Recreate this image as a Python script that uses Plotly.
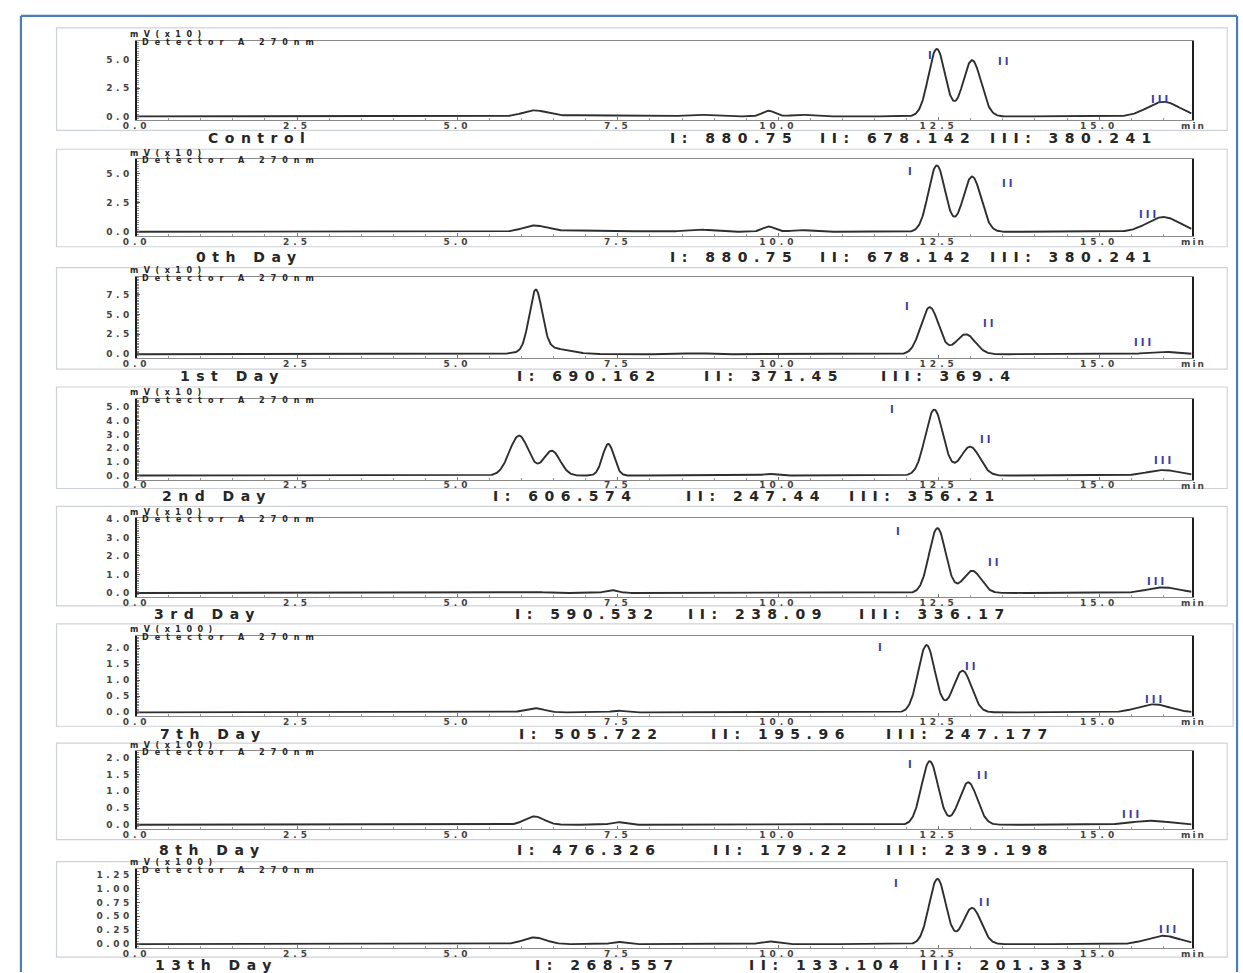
import numpy as np
import plotly.graph_objects as go

W, H = 1243, 973

# ---- sample names and integrated peak areas (peaks I, II, III) ----
samples = ["Control", "0th Day", "1st Day", "2nd Day", "3rd Day", "7th Day", "8th Day", "13th Day"]
area_I = ["880.75", "880.75", "690.162", "606.574", "590.532", "505.722", "476.326", "268.557"]
area_II = ["678.142", "678.142", "371.45", "247.44", "238.09", "195.96", "179.22", "133.104"]
area_III = ["380.241", "380.241", "369.4", "356.21", "336.17", "247.177", "239.198", "201.333"]
scale_labels = ["mV(x10)", "mV(x10)", "mV(x10)", "mV(x10)", "mV(x10)", "mV(x100)", "mV(x100)", "mV(x100)"]
detector_label = "Detector A 270nm"

# ---- peak tables: retention time (min), height (scaled), width sigma (min) ----
control_rt = [6.20, 7.00, 8.75, 9.85, 10.35, 12.47, 13.02, 16.00]
control_h = [0.50, 0.10, 0.15, 0.50, 0.15, 6.00, 5.00, 1.30]
control_w = [0.18, 0.60, 0.20, 0.10, 0.15, 0.13, 0.14, 0.25]

day0_rt = [6.20, 7.00, 8.75, 9.85, 10.35, 12.47, 13.02, 16.00]
day0_h = [0.50, 0.12, 0.20, 0.45, 0.15, 5.70, 4.75, 1.27]
day0_w = [0.18, 0.60, 0.20, 0.10, 0.15, 0.13, 0.14, 0.25]

day1_rt = [6.22, 6.40, 8.70, 10.00, 12.36, 12.92, 16.00]
day1_h = [7.45, 0.80, 0.12, 0.08, 5.90, 2.50, 0.30]
day1_w = [0.10, 0.30, 0.20, 0.15, 0.14, 0.15, 0.25]

day2_rt = [5.96, 6.47, 7.35, 9.85, 12.43, 12.99, 16.00]
day2_h = [2.90, 1.80, 2.30, 0.12, 4.80, 2.10, 0.40]
day2_w = [0.15, 0.13, 0.09, 0.10, 0.14, 0.15, 0.25]

day3_rt = [6.20, 7.40, 12.48, 13.02, 16.00]
day3_h = [0.05, 0.15, 3.50, 1.20, 0.30]
day3_w = [0.15, 0.10, 0.13, 0.14, 0.25]

day7_rt = [6.20, 7.50, 12.31, 12.87, 15.85]
day7_h = [0.13, 0.05, 2.10, 1.30, 0.25]
day7_w = [0.15, 0.10, 0.13, 0.14, 0.25]

day8_rt = [6.20, 7.50, 12.36, 12.96, 15.80]
day8_h = [0.25, 0.08, 1.90, 1.27, 0.12]
day8_w = [0.15, 0.10, 0.13, 0.14, 0.30]

day13_rt = [6.20, 7.50, 9.85, 12.48, 13.02, 16.00]
day13_h = [0.12, 0.04, 0.05, 1.17, 0.65, 0.15]
day13_w = [0.18, 0.10, 0.12, 0.13, 0.14, 0.25]

peak_tables = [
    (control_rt, control_h, control_w),
    (day0_rt, day0_h, day0_w),
    (day1_rt, day1_h, day1_w),
    (day2_rt, day2_h, day2_w),
    (day3_rt, day3_h, day3_w),
    (day7_rt, day7_h, day7_w),
    (day8_rt, day8_h, day8_w),
    (day13_rt, day13_h, day13_w),
]

# y tick values of each chromatogram
y_ticks = [
    [0.0, 2.5, 5.0],
    [0.0, 2.5, 5.0],
    [0.0, 2.5, 5.0, 7.5],
    [0.0, 1.0, 2.0, 3.0, 4.0, 5.0],
    [0.0, 1.0, 2.0, 3.0, 4.0],
    [0.0, 0.5, 1.0, 1.5, 2.0],
    [0.0, 0.5, 1.0, 1.5, 2.0],
    [0.00, 0.25, 0.50, 0.75, 1.00, 1.25],
]
x_ticks = [0.0, 2.5, 5.0, 7.5, 10.0, 12.5, 15.0]

# ---- layout (pixels) ----
X_LEFT, X_RIGHT = 124, 1191
PX_PER_MIN = 64.9
T_END = (X_RIGHT - X_LEFT) / PX_PER_MIN

# (plot top, zero line, pixels per unit) of each panel
panel_geom = [
    (37, 113, 11.3), (156, 229, 11.7), (274, 352, 8.0), (397, 474, 13.8),
    (517, 592, 18.6), (635, 712, 32.2), (751, 825, 33.6), (869, 945, 56.0),
]
# grey frame (top, bottom) around each panel
frames = [(24, 127), (146, 244), (265, 367), (385, 487), (505, 605), (623, 726), (743, 840), (862, 958)]
# caption centre (x, y)
captions_xy = [(248, 135), (238, 254), (221, 374), (205, 495), (196, 613), (202, 734), (201, 850), (205, 966)]
# starting x of the three area texts, and their y
area_xy = [
    (661, 813, 985, 135), (661, 813, 985, 254), (507, 696, 875, 374), (482, 678, 842, 495),
    (505, 680, 853, 613), (509, 703, 880, 734), (507, 705, 880, 850), (525, 741, 915, 966),
]
# positions of the I / II / III peak markers
roman_xy = [
    [(928, 52), (1002, 58), (1160, 96)],
    [(908, 168), (1006, 180), (1148, 212)],
    [(905, 304), (987, 321), (1143, 340)],
    [(890, 408), (984, 438), (1163, 459)],
    [(896, 530), (992, 561), (1156, 580)],
    [(877, 647), (968, 666), (1154, 699)],
    [(908, 764), (981, 775), (1131, 815)],
    [(894, 884), (983, 903), (1168, 930)],
]


def px(x):
    return x / W


def py(y):
    return 1 - y / H


def spaced(text, ls):
    return f'<span style="letter-spacing:{ls}px">{text}</span>'


t = np.linspace(0, T_END, 1800)

fig = go.Figure()
shapes = []
annotations = []
BOLD = "DejaVu Sans"
INK = "#262626"
BLUE_TXT = "#3b3aa8"

for i, (rt, hh, ww) in enumerate(peak_tables):
    n = i + 1
    top, zero, ppu = panel_geom[i]
    bottom = zero + 4
    signal = np.zeros_like(t)
    for r, h, w in zip(rt, hh, ww):
        signal += h * np.exp(-0.5 * ((t - r) / w) ** 2)

    xa = "x" if n == 1 else f"x{n}"
    ya = "y" if n == 1 else f"y{n}"
    fig.add_trace(go.Scatter(
        x=t, y=signal, mode="lines", xaxis=xa, yaxis=ya,
        line=dict(color="#2e2e2e", width=1.9), showlegend=False, hoverinfo="skip",
    ))

    fmt = "{:.2f}" if i == 7 else "{:.1f}"
    yt = y_ticks[i]
    fig.layout[f"xaxis{'' if n == 1 else n}"] = dict(
        domain=[px(X_LEFT), px(X_RIGHT)], anchor=ya, range=[0, T_END],
        showline=True, linecolor="#8a8a8a", linewidth=1, mirror=True,
        showgrid=False, zeroline=False,
        tickvals=x_ticks, ticktext=[spaced(f"{v:.1f}", 4) for v in x_ticks],
        ticks="inside", ticklen=3, tickcolor="#777",
        ticklabelstandoff=-3,
        tickfont=dict(family=BOLD, size=9, color="#444", weight="bold"),
        minor=dict(dtick=0.5, ticks="inside", ticklen=2, tickcolor="#999"),
        fixedrange=True,
    )
    fig.layout[f"yaxis{'' if n == 1 else n}"] = dict(
        domain=[py(bottom), py(top)], anchor=xa,
        range=[-(bottom - zero) / ppu, (zero - top) / ppu],
        showline=True, linecolor="#1e1e1e", linewidth=2, mirror=True,
        showgrid=False, zeroline=False,
        tickvals=yt, ticktext=[spaced(fmt.format(v), 3.5) for v in yt],
        ticks="inside", ticklen=3, tickcolor="#555",
        tickfont=dict(family=BOLD, size=9, color="#444", weight="bold"),
        minor=dict(nticks=12, ticks="inside", ticklen=2, tickcolor="#888"),
        fixedrange=True,
    )

    # grey frame of the panel
    ft, fb = frames[i]
    right_edge = 1233 if i == 5 else 1227
    shapes.append(dict(type="rect", xref="paper", yref="paper",
                       x0=px(43), x1=px(right_edge), y0=py(fb), y1=py(ft),
                       line=dict(color="#cdd2d8", width=1.2), layer="below"))

    # scale and detector labels above the y axis
    annotations.append(dict(text=spaced(scale_labels[i], 5.5), xref="paper", yref="paper",
                            x=px(115), y=py(top - 6), xanchor="left", yanchor="middle",
                            showarrow=False, font=dict(family=BOLD, size=8, color=INK, weight="bold")))
    annotations.append(dict(text=spaced(detector_label, 6), xref="paper", yref="paper",
                            x=px(127), y=py(top + 1.5), xanchor="left", yanchor="middle",
                            showarrow=False, font=dict(family=BOLD, size=8, color=INK, weight="bold")))
    # time unit at the end of the x axis
    annotations.append(dict(text=spaced("min", 2), xref="paper", yref="paper",
                            x=px(X_RIGHT + 2), y=py(bottom + 6), xanchor="center", yanchor="middle",
                            showarrow=False, font=dict(family=BOLD, size=9, color="#444", weight="bold")))

    # sample caption
    cx, cy = captions_xy[i]
    annotations.append(dict(text=spaced(samples[i], 6.5), xref="paper", yref="paper",
                            x=px(cx), y=py(cy), xanchor="center", yanchor="middle",
                            showarrow=False, font=dict(family=BOLD, size=14, color=INK, weight="bold")))

    # peak area results
    a1, a2, a3, ay = area_xy[i]
    for ax_, txt in zip((a1, a2, a3), (f"I: {area_I[i]}", f"II: {area_II[i]}", f"III: {area_III[i]}")):
        annotations.append(dict(text=spaced(txt, 6.5), xref="paper", yref="paper",
                                x=px(ax_), y=py(ay), xanchor="left", yanchor="middle",
                                showarrow=False, font=dict(family=BOLD, size=14, color=INK, weight="bold")))

    # peak markers
    for (rx, ry), lab in zip(roman_xy[i], ("I", "II", "III")):
        annotations.append(dict(text=spaced(lab, 3), xref="paper", yref="paper",
                                x=px(rx), y=py(ry), xanchor="center", yanchor="middle",
                                showarrow=False, font=dict(family=BOLD, size=10, color=BLUE_TXT, weight="bold")))

# blue outer border
BLUE = "#4a7ebb"
for x0, y0, x1, y1 in [(7, 12, 1237, 12), (7, 12, 7, 973), (1237, 12, 1237, 973)]:
    shapes.append(dict(type="line", xref="paper", yref="paper",
                       x0=px(x0), y0=py(y0), x1=px(x1), y1=py(y1),
                       line=dict(color=BLUE, width=2.2)))

fig.update_layout(
    width=W, height=H, margin=dict(l=0, r=0, t=0, b=0),
    paper_bgcolor="white", plot_bgcolor="white",
    shapes=shapes, annotations=annotations, showlegend=False,
    font=dict(family=BOLD),
)

fig.write_html("out.html", post_script="document.body.style.margin='0';")
